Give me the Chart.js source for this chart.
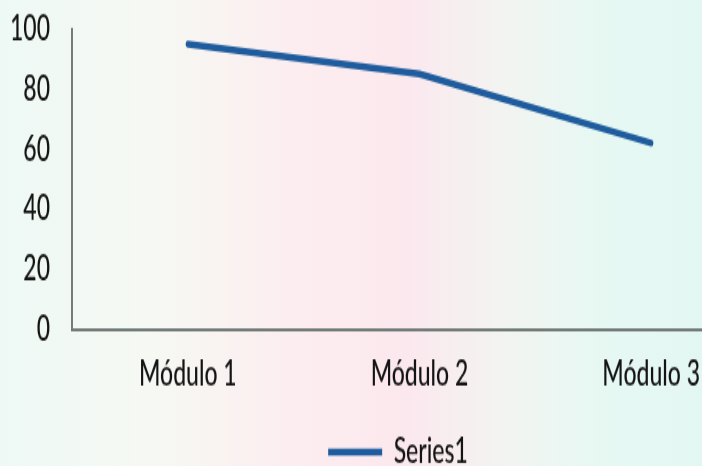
<!DOCTYPE html>
<html>
<head>
<meta charset="utf-8">
<script src="https://cdn.jsdelivr.net/npm/chart.js@4/dist/chart.umd.min.js"></script>
<style>
  html, body { margin: 0; padding: 0; width: 702px; height: 466px; overflow: hidden; }
  body {
    background: linear-gradient(to right, #eef9f5 0%, #f6f8f3 22%, #fcedf0 42%, #fbe8ee 58%, #f2f4f1 72%, #e7f8f3 85%, #e3f7f2 100%);
  }
  #wrap { position: absolute; left: 0; top: 0; width: 767px; height: 301px;
          transform: scaleY(1.5482); transform-origin: 0 0; }
</style>
</head>
<body>
<div id="wrap"><canvas id="c" width="767" height="301"></canvas></div>
<script>
const categories = ['Módulo 1', 'Módulo 2', 'Módulo 3'];
const seriesName = 'Series1';
const series1 = [95, 85, 62];
const yTicks = [0, 20, 40, 60, 80, 100];

const lineColor = '#1f5c9e';
const axisColor = '#737c7a';
const textColor = '#141414';
const fontFamily = 'Lato, "Open Sans", sans-serif';

new Chart(document.getElementById('c'), {
  type: 'line',
  data: {
    labels: categories,
    datasets: [{
      label: seriesName,
      data: series1,
      borderColor: lineColor,
      backgroundColor: lineColor,
      borderWidth: 4.5,
      pointRadius: 0,
      pointHoverRadius: 0,
      pointStyle: 'line',
      tension: 0,
      borderCapStyle: 'round',
      borderJoinStyle: 'round',
      fill: false
    }]
  },
  options: {
    responsive: false,
    devicePixelRatio: 1,
    animation: false,
    layout: { padding: { left: 29, top: 18.7, right: 0, bottom: -12.5 } },
    plugins: {
      legend: {
        position: 'bottom',
        labels: {
          usePointStyle: true,
          pointStyleWidth: 54,
          padding: 10,
          color: textColor,
          font: { family: fontFamily, size: 23, weight: '500' }
        }
      },
      tooltip: { enabled: false }
    },
    scales: {
      x: {
        offset: true,
        grid: { display: false, drawTicks: false },
        border: { display: true, color: axisColor, width: 2 },
        ticks: { color: textColor, padding: 15.4, maxRotation: 0,
                 font: { family: fontFamily, size: 23, weight: '500' } },
        afterFit: (s) => { s.height = 58; }
      },
      y: {
        min: yTicks[0],
        max: yTicks[yTicks.length - 1],
        afterBuildTicks: (s) => { s.ticks = yTicks.map(v => ({ value: v })); },
        grid: { display: false, drawTicks: false },
        border: { display: true, color: axisColor, width: 2 },
        ticks: { color: textColor, mirror: true, crossAlign: 'far', padding: -62,
                 font: { family: fontFamily, size: 23, weight: '500' } },
        afterFit: (s) => { s.width = 43; }
      }
    }
  }
});
</script>
</body>
</html>
